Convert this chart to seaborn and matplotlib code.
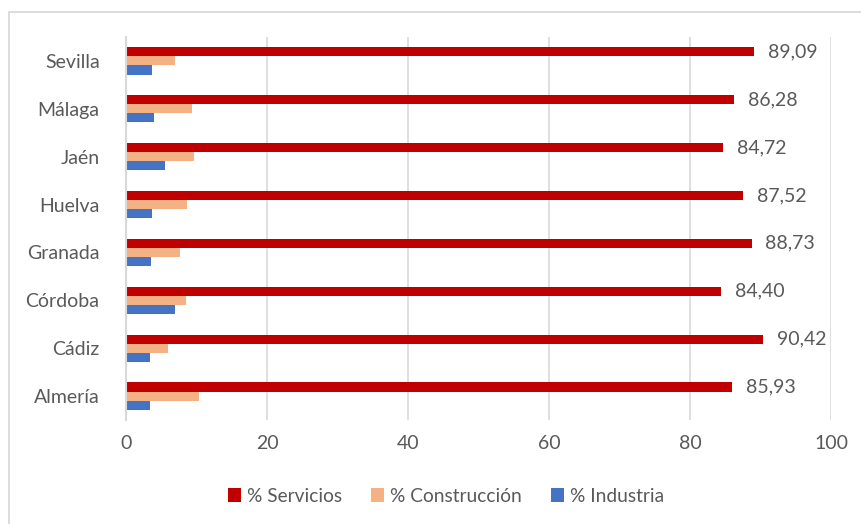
import numpy as np
import pandas as pd
import seaborn as sns
import matplotlib.pyplot as plt
from matplotlib.patches import Rectangle, Patch

# data
provincias = ['Sevilla', 'Málaga', 'Jaén', 'Huelva', 'Granada', 'Córdoba', 'Cádiz', 'Almería']
servicios = [89.09, 86.28, 84.72, 87.52, 88.73, 84.40, 90.42, 85.93]
construccion = [7.0, 9.4, 9.6, 8.6, 7.7, 8.5, 6.0, 10.4]
industria = [3.7, 4.0, 5.5, 3.7, 3.6, 7.0, 3.4, 3.4]

series = ['% Servicios', '% Construcción', '% Industria']
colores = ['#C00000', '#F4B183', '#4472C4']
gris = '#595959'

df = pd.DataFrame({'provincia': provincias,
                   series[0]: servicios,
                   series[1]: construccion,
                   series[2]: industria})
df = df.melt(id_vars='provincia', var_name='sector', value_name='valor')

sns.set_style('white')
plt.rcParams['font.family'] = ['Lato', 'DejaVu Sans']

fig = plt.figure(figsize=(8.61, 5.24), dpi=100)
ax = fig.add_axes([126/861, 1-420/524, (831-126)/861, (420-37)/524])

# outer chart border
fig.patches.append(Rectangle((9/861, -0.1), 1.2, 1-12/524+0.1, transform=fig.transFigure,
                             fill=False, edgecolor='#D9D9D9', lw=1.3, zorder=0))

sns.barplot(data=df, y='provincia', x='valor', hue='sector', order=provincias,
            hue_order=series, palette=colores, orient='h', width=0.57,
            saturation=1, ax=ax, legend=False)

for p in ax.patches:
    p.set_edgecolor('none')

# data labels on servicios only
cont = ax.containers[0]
ax.bar_label(cont, labels=[f'{v:.2f}'.replace('.', ',') for v in servicios],
             padding=10, fontsize=14, color=gris)

ax.set_xlim(0, 100)
ax.set_ylim(7.5, -0.5)
ax.set_xticks(np.arange(0, 101, 20))
ax.grid(axis='x', color='#D9D9D9', lw=1.2)
ax.set_axisbelow(True)
for s in ['top', 'right', 'bottom']:
    ax.spines[s].set_visible(False)
ax.spines['left'].set_color('#D9D9D9')
ax.spines['left'].set_linewidth(1.5)
ax.spines['left'].set_zorder(3)
ax.tick_params(axis='x', length=0, pad=11, labelsize=14, labelcolor=gris)
ax.tick_params(axis='y', length=0, pad=19, labelsize=14, labelcolor=gris)
ax.set_xlabel('')
ax.set_ylabel('')

handles = [Patch(facecolor=c, edgecolor='none') for c in colores]
fig.legend(handles, series, loc='center', bbox_to_anchor=(446/861, 1-496/524),
           ncol=3, frameon=False, fontsize=13.8, handlelength=0.7, handleheight=0.7,
           handletextpad=0.3, columnspacing=1.5, labelcolor=gris)

fig.savefig('out.png', dpi=100)
